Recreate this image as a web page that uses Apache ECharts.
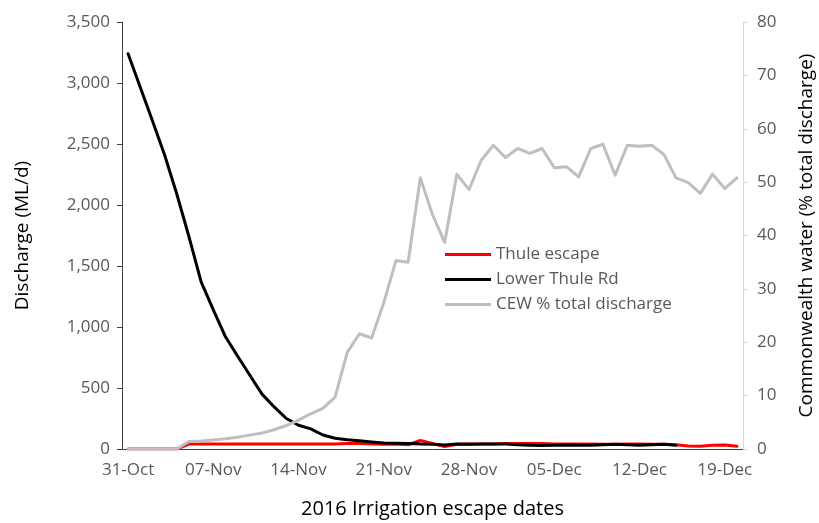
<!DOCTYPE html>
<html>
<head>
<meta charset="utf-8">
<script src="https://cdn.jsdelivr.net/npm/echarts@6/dist/echarts.min.js"></script>
<style>
  html, body { margin: 0; padding: 0; background: #fff; }
  #chart { width: 819px; height: 523px; }
</style>
</head>
<body>
<div id="chart"></div>
<script>
// daily dates, 31-Oct to 20-Dec 2016
let dates = [
  "31-Oct",
  "01-Nov", "02-Nov", "03-Nov", "04-Nov", "05-Nov", "06-Nov", "07-Nov", "08-Nov", "09-Nov", "10-Nov",
  "11-Nov", "12-Nov", "13-Nov", "14-Nov", "15-Nov", "16-Nov", "17-Nov", "18-Nov", "19-Nov", "20-Nov",
  "21-Nov", "22-Nov", "23-Nov", "24-Nov", "25-Nov", "26-Nov", "27-Nov", "28-Nov", "29-Nov", "30-Nov",
  "01-Dec", "02-Dec", "03-Dec", "04-Dec", "05-Dec", "06-Dec", "07-Dec", "08-Dec", "09-Dec", "10-Dec",
  "11-Dec", "12-Dec", "13-Dec", "14-Dec", "15-Dec", "16-Dec", "17-Dec", "18-Dec", "19-Dec", "20-Dec"
];

// ML/d
let thuleEscape = [
  0, 0, 0, 0, 0, 40, 40, 40, 40, 40, 40,
  40, 40, 40, 40, 40, 40, 42, 45, 45, 40,
  38, 40, 35, 70, 45, 20, 38, 40, 42, 42,
  45, 45, 45, 45, 42, 40, 40, 40, 38, 38,
  40, 40, 38, 38, 35, 25, 22, 30, 32, 22
];
let lowerThuleRd = [
  3240, 2965, 2690, 2410, 2090, 1740, 1370, 1140, 920, 760, 605,
  450, 345, 250, 195, 165, 115, 88, 75, 68, 58,
  50, 48, 45, 40, 38, 32, 40, 38, 40, 42,
  40, 35, 30, 28, 30, 32, 30, 30, 35, 38,
  35, 30, 35, 38, 30, null, null, null, null, null
];
// % of total discharge
let cewPct = [
  0, 0, 0, 0, 0, 1.4, 1.5, 1.7, 1.9, 2.2, 2.6,
  3.0, 3.6, 4.4, 5.4, 6.6, 7.6, 9.7, 18.1, 21.6, 20.8,
  27.4, 35.3, 35.0, 50.8, 43.9, 38.7, 51.5, 48.6, 54.1, 56.9,
  54.6, 56.3, 55.4, 56.3, 52.7, 52.9, 51.0, 56.3, 57.1, 51.3,
  56.9, 56.7, 56.9, 55.2, 50.8, 49.9, 47.9, 51.5, 48.8, 50.8
];

let font = "'Open Sans', sans-serif";
let myChart = echarts.init(document.getElementById("chart"));

function lineSeries(name, data, color, axis) {
  return {
    name: name,
    type: "line",
    yAxisIndex: axis,
    data: data,
    showSymbol: false,
    smooth: false,
    connectNulls: false,
    lineStyle: { color: color, width: 3, join: "round", cap: "round" },
    itemStyle: { color: color },
  };
}

let option = {
  animation: false,
  // fixed plot box, no auto shrinking
  grid: { left: 122, right: 76, top: 22, bottom: 74, outerBoundsMode: "none" },
  legend: {
    orient: "vertical",
    left: 440,
    top: 241,
    icon: "rect",
    itemWidth: 46,
    itemHeight: 3,
    itemGap: 8,
    textStyle: { fontFamily: font, fontSize: 17, color: "#595959" },
    data: ["Thule escape", "Lower Thule Rd", "CEW % total discharge"],
  },
  xAxis: {
    type: "category",
    data: dates,
    boundaryGap: true,
    name: "2016 Irrigation escape dates",
    nameLocation: "middle",
    nameGap: 50,
    nameTextStyle: { fontFamily: font, fontSize: 20, color: "#000" },
    axisLine: { lineStyle: { color: "#404040", width: 1 } },
    axisTick: { interval: 6, length: 5, lineStyle: { color: "#404040" } },
    axisLabel: { interval: 6, margin: 13, fontFamily: font, fontSize: 17, color: "#595959" },
    splitLine: { show: false },
  },
  yAxis: [
    {
      type: "value",
      min: 0,
      max: 3500,
      interval: 500,
      name: "Discharge (ML/d)",
      nameLocation: "middle",
      nameRotate: 90,
      nameGap: 90,
      nameTextStyle: { fontFamily: font, fontSize: 19, color: "#000" },
      axisLine: { show: true, lineStyle: { color: "#404040" } },
      axisTick: { show: true, length: 5, lineStyle: { color: "#404040" } },
      axisLabel: {
        margin: 12,
        fontFamily: font,
        fontSize: 17,
        color: "#595959",
        formatter: function (v) {
          return v.toLocaleString("en-US");
        },
      },
      splitLine: { show: false },
    },
    {
      type: "value",
      min: 0,
      max: 80,
      interval: 10,
      position: "right",
      name: "Commonwealth water (% total discharge)",
      nameLocation: "middle",
      nameRotate: 90,
      nameGap: 54,
      nameTextStyle: { fontFamily: font, fontSize: 19, color: "#000" },
      axisLine: { show: true, lineStyle: { color: "#d9d9d9" } },
      axisTick: { show: true, length: 5, lineStyle: { color: "#d9d9d9" } },
      axisLabel: { margin: 14, fontFamily: font, fontSize: 17, color: "#595959" },
      splitLine: { show: false },
    },
  ],
  series: [
    lineSeries("Thule escape", thuleEscape, "#ff0000", 0),
    lineSeries("Lower Thule Rd", lowerThuleRd, "#000000", 0),
    lineSeries("CEW % total discharge", cewPct, "#bfbfbf", 1),
  ],
};

myChart.setOption(option);
</script>
</body>
</html>
